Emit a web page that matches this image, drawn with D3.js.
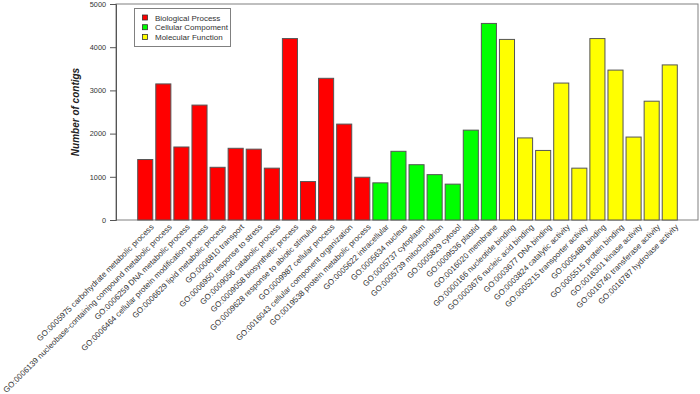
<!DOCTYPE html>
<html>
<head>
<meta charset="utf-8">
<script src="https://cdn.jsdelivr.net/npm/d3@7"></script>
<style>
  body { margin: 0; background: #fff; }
  text { font-family: "Liberation Sans", Arial, sans-serif; }
</style>
</head>
<body>
<div id="chart"></div>
<script>
// GO terms, one bar each
const terms = [
  "GO:0005975 carbohydrate metabolic process",
  "GO:0006139 nucleobase-containing compound metabolic process",
  "GO:0006259 DNA metabolic process",
  "GO:0006464 cellular protein modification process",
  "GO:0006629 lipid metabolic process",
  "GO:0006810 transport",
  "GO:0006950 response to stress",
  "GO:0009056 catabolic process",
  "GO:0009058 biosynthetic process",
  "GO:0009628 response to abiotic stimulus",
  "GO:0009987 cellular process",
  "GO:0016043 cellular component organization",
  "GO:0019538 protein metabolic process",
  "GO:0005622 intracellular",
  "GO:0005634 nucleus",
  "GO:0005737 cytoplasm",
  "GO:0005739 mitochondrion",
  "GO:0005829 cytosol",
  "GO:0009536 plastid",
  "GO:0016020 membrane",
  "GO:0000166 nucleotide binding",
  "GO:0003676 nucleic acid binding",
  "GO:0003677 DNA binding",
  "GO:0003824 catalytic activity",
  "GO:0005215 transporter activity",
  "GO:0005488 binding",
  "GO:0005515 protein binding",
  "GO:0016301 kinase activity",
  "GO:0016740 transferase activity",
  "GO:0016787 hydrolase activity"
];
const counts = [
  1400, 3150, 1690, 2660, 1220, 1660, 1640, 1200, 4200, 890, 3280, 2220, 990,
  860, 1590, 1280, 1050, 830, 2080, 4550,
  4180, 1900, 1610, 3170, 1200, 4200, 3470, 1920, 2750, 3590
];
// 0 = BP, 1 = CC, 2 = MF
const groupOf = [
  0,0,0,0,0,0,0,0,0,0,0,0,0,
  1,1,1,1,1,1,1,
  2,2,2,2,2,2,2,2,2,2
];
const groups = ["Biological Process", "Cellular Compoment", "Molecular Function"];
const groupColors = ["#ff0000", "#00ff00", "#ffff00"];
const yTicks = [0, 1000, 2000, 3000, 4000, 5000];

const W = 700, H = 394;
const box = { left: 116, right: 698, top: 4, bottom: 220 };

const svg = d3.select("#chart").append("svg")
  .attr("width", W)
  .attr("height", H);

const x = d3.scaleBand()
  .domain(d3.range(terms.length))
  .range([137.7, 677.3])
  .paddingInner(1 / 6)
  .paddingOuter(0);

const y = d3.scaleLinear()
  .domain([0, 5000])
  .range([box.bottom, box.top]);

// plot frame
svg.append("rect")
  .attr("x", box.left)
  .attr("y", box.top)
  .attr("width", box.right - box.left)
  .attr("height", box.bottom - box.top)
  .attr("fill", "none")
  .attr("stroke", "#808080")
  .attr("stroke-width", 1);

// y axis
const yAxis = svg.append("g")
  .attr("transform", `translate(${box.left},0)`)
  .call(d3.axisLeft(y).tickValues(yTicks).tickSize(6).tickPadding(4).tickFormat(d3.format("d")));
yAxis.select(".domain").attr("stroke", "#555");
yAxis.selectAll(".tick line").attr("stroke", "#555");
yAxis.selectAll(".tick text")
  .attr("fill", "#333")
  .style("font-size", "7.3px")
  .style("font-family", "'Liberation Sans', Arial, sans-serif");

svg.append("text")
  .attr("transform", `translate(79,${(box.top + box.bottom) / 2}) rotate(-90)`)
  .attr("text-anchor", "middle")
  .style("font-size", "10px")
  .style("font-weight", "bold")
  .style("font-style", "italic")
  .attr("fill", "#222")
  .text("Number of contigs");

// bars
svg.selectAll("rect.bar")
  .data(counts)
  .enter()
  .append("rect")
    .attr("class", "bar")
    .attr("x", (d, i) => x(i))
    .attr("y", d => y(d))
    .attr("width", x.bandwidth())
    .attr("height", d => y(0) - y(d))
    .attr("fill", (d, i) => groupColors[groupOf[i]])
    .attr("stroke", "#555")
    .attr("stroke-width", 1);

// rotated category labels
svg.selectAll("text.lab")
  .data(terms)
  .enter()
  .append("text")
    .attr("class", "lab")
    .attr("transform", (d, i) => `translate(${x(i) + x.bandwidth() / 2 + 9},${box.bottom + 7.5}) rotate(-45)`)
    .attr("text-anchor", "end")
    .style("font-size", "8px")
    .attr("fill", "#333")
    .text(d => d);

// legend
const lg = svg.append("g").attr("transform", "translate(134.5,8.5)");
lg.append("rect")
  .attr("width", 96)
  .attr("height", 38)
  .attr("fill", "#fff")
  .attr("stroke", "#808080");
groups.forEach((g, i) => {
  lg.append("rect")
    .attr("x", 8)
    .attr("y", 6.5 + i * 9.7)
    .attr("width", 5)
    .attr("height", 5)
    .attr("fill", groupColors[i])
    .attr("stroke", "#333")
    .attr("stroke-width", 0.8);
  lg.append("text")
    .attr("x", 20.5)
    .attr("y", 12 + i * 9.7)
    .style("font-size", "8px")
    .attr("fill", "#333")
    .text(g);
});
</script>
</body>
</html>
